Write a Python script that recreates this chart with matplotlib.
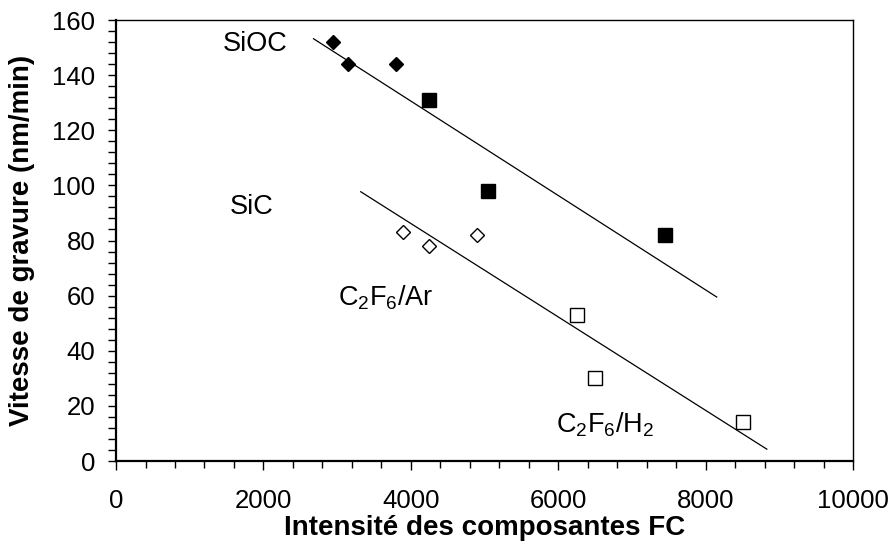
import numpy as np
import matplotlib.pyplot as plt
from matplotlib.ticker import MultipleLocator

plt.rcParams['font.family'] = ['Liberation Sans', 'DejaVu Sans']
plt.rcParams['mathtext.default'] = 'regular'

# SiOC points (filled) - C2F6/Ar diamonds, C2F6/H2 squares
sioc_ar_x = [2950, 3150, 3800]
sioc_ar_y = [152, 144, 144]
sioc_h2_x = [4250, 5050, 7450]
sioc_h2_y = [131, 98, 82]

# SiC points (open)
sic_ar_x = [3900, 4250, 4900]
sic_ar_y = [83, 78, 82]
sic_h2_x = [6250, 6500, 8500]
sic_h2_y = [53, 30, 14]

# trend lines (end points)
sioc_line_x = [2680, 8150]
sioc_line_y = [153.2, 59.5]
sic_line_x = [3320, 8830]
sic_line_y = [97.7, 4.3]

fig = plt.figure(figsize=(8.94, 5.47), dpi=100)
ax = fig.add_axes([0.1298, 0.1572, 0.8244, 0.8062])

ax.plot(sioc_line_x, sioc_line_y, color='black', lw=0.9)
ax.plot(sic_line_x, sic_line_y, color='black', lw=0.9)

ax.plot(sioc_ar_x, sioc_ar_y, 'D', color='black', ms=7.5, ls='none')
ax.plot(sioc_h2_x, sioc_h2_y, 's', color='black', ms=9.5, ls='none')
ax.plot(sic_ar_x, sic_ar_y, 'D', mfc='white', mec='black', mew=1.0, ms=7.5, ls='none')
ax.plot(sic_h2_x, sic_h2_y, 's', mfc='white', mec='black', mew=1.0, ms=9.5, ls='none')

fs = 19.5
ax.text(1452, 151.3, 'SiOC', fontsize=fs, ha='left', va='center')
ax.text(1547, 92.2, 'SiC', fontsize=fs, ha='left', va='center')
ax.text(3012, 59.1, 'C$_2$F$_6$/Ar', fontsize=fs, ha='left', va='center')
ax.text(5970, 13.1, 'C$_2$F$_6$/H$_2$', fontsize=fs, ha='left', va='center')

ax.set_xlim(0, 10000)
ax.set_ylim(0, 160)
ax.xaxis.set_major_locator(MultipleLocator(2000))
ax.xaxis.set_minor_locator(MultipleLocator(400))
ax.yaxis.set_major_locator(MultipleLocator(20))
ax.yaxis.set_minor_locator(MultipleLocator(4))
ax.tick_params(axis='x', which='major', length=6.5, width=1, pad=14, labelsize=18.5)
ax.tick_params(axis='x', which='minor', length=5, width=1)
ax.tick_params(axis='y', which='major', length=5.8, width=1, pad=9, labelsize=18.5)
ax.tick_params(axis='y', which='minor', length=5.8, width=1)

for side in ['left', 'bottom']:
    ax.spines[side].set_linewidth(1.6)
for side in ['top', 'right']:
    ax.spines[side].set_linewidth(1.0)

ax.set_xlabel('Intensité des composantes FC', fontsize=20, fontweight='bold', labelpad=1)
ax.set_ylabel('Vitesse de gravure (nm/min)', fontsize=20, fontweight='bold')
ax.yaxis.set_label_coords(-0.11, 0.5)

fig.savefig('out.png', dpi=100)
